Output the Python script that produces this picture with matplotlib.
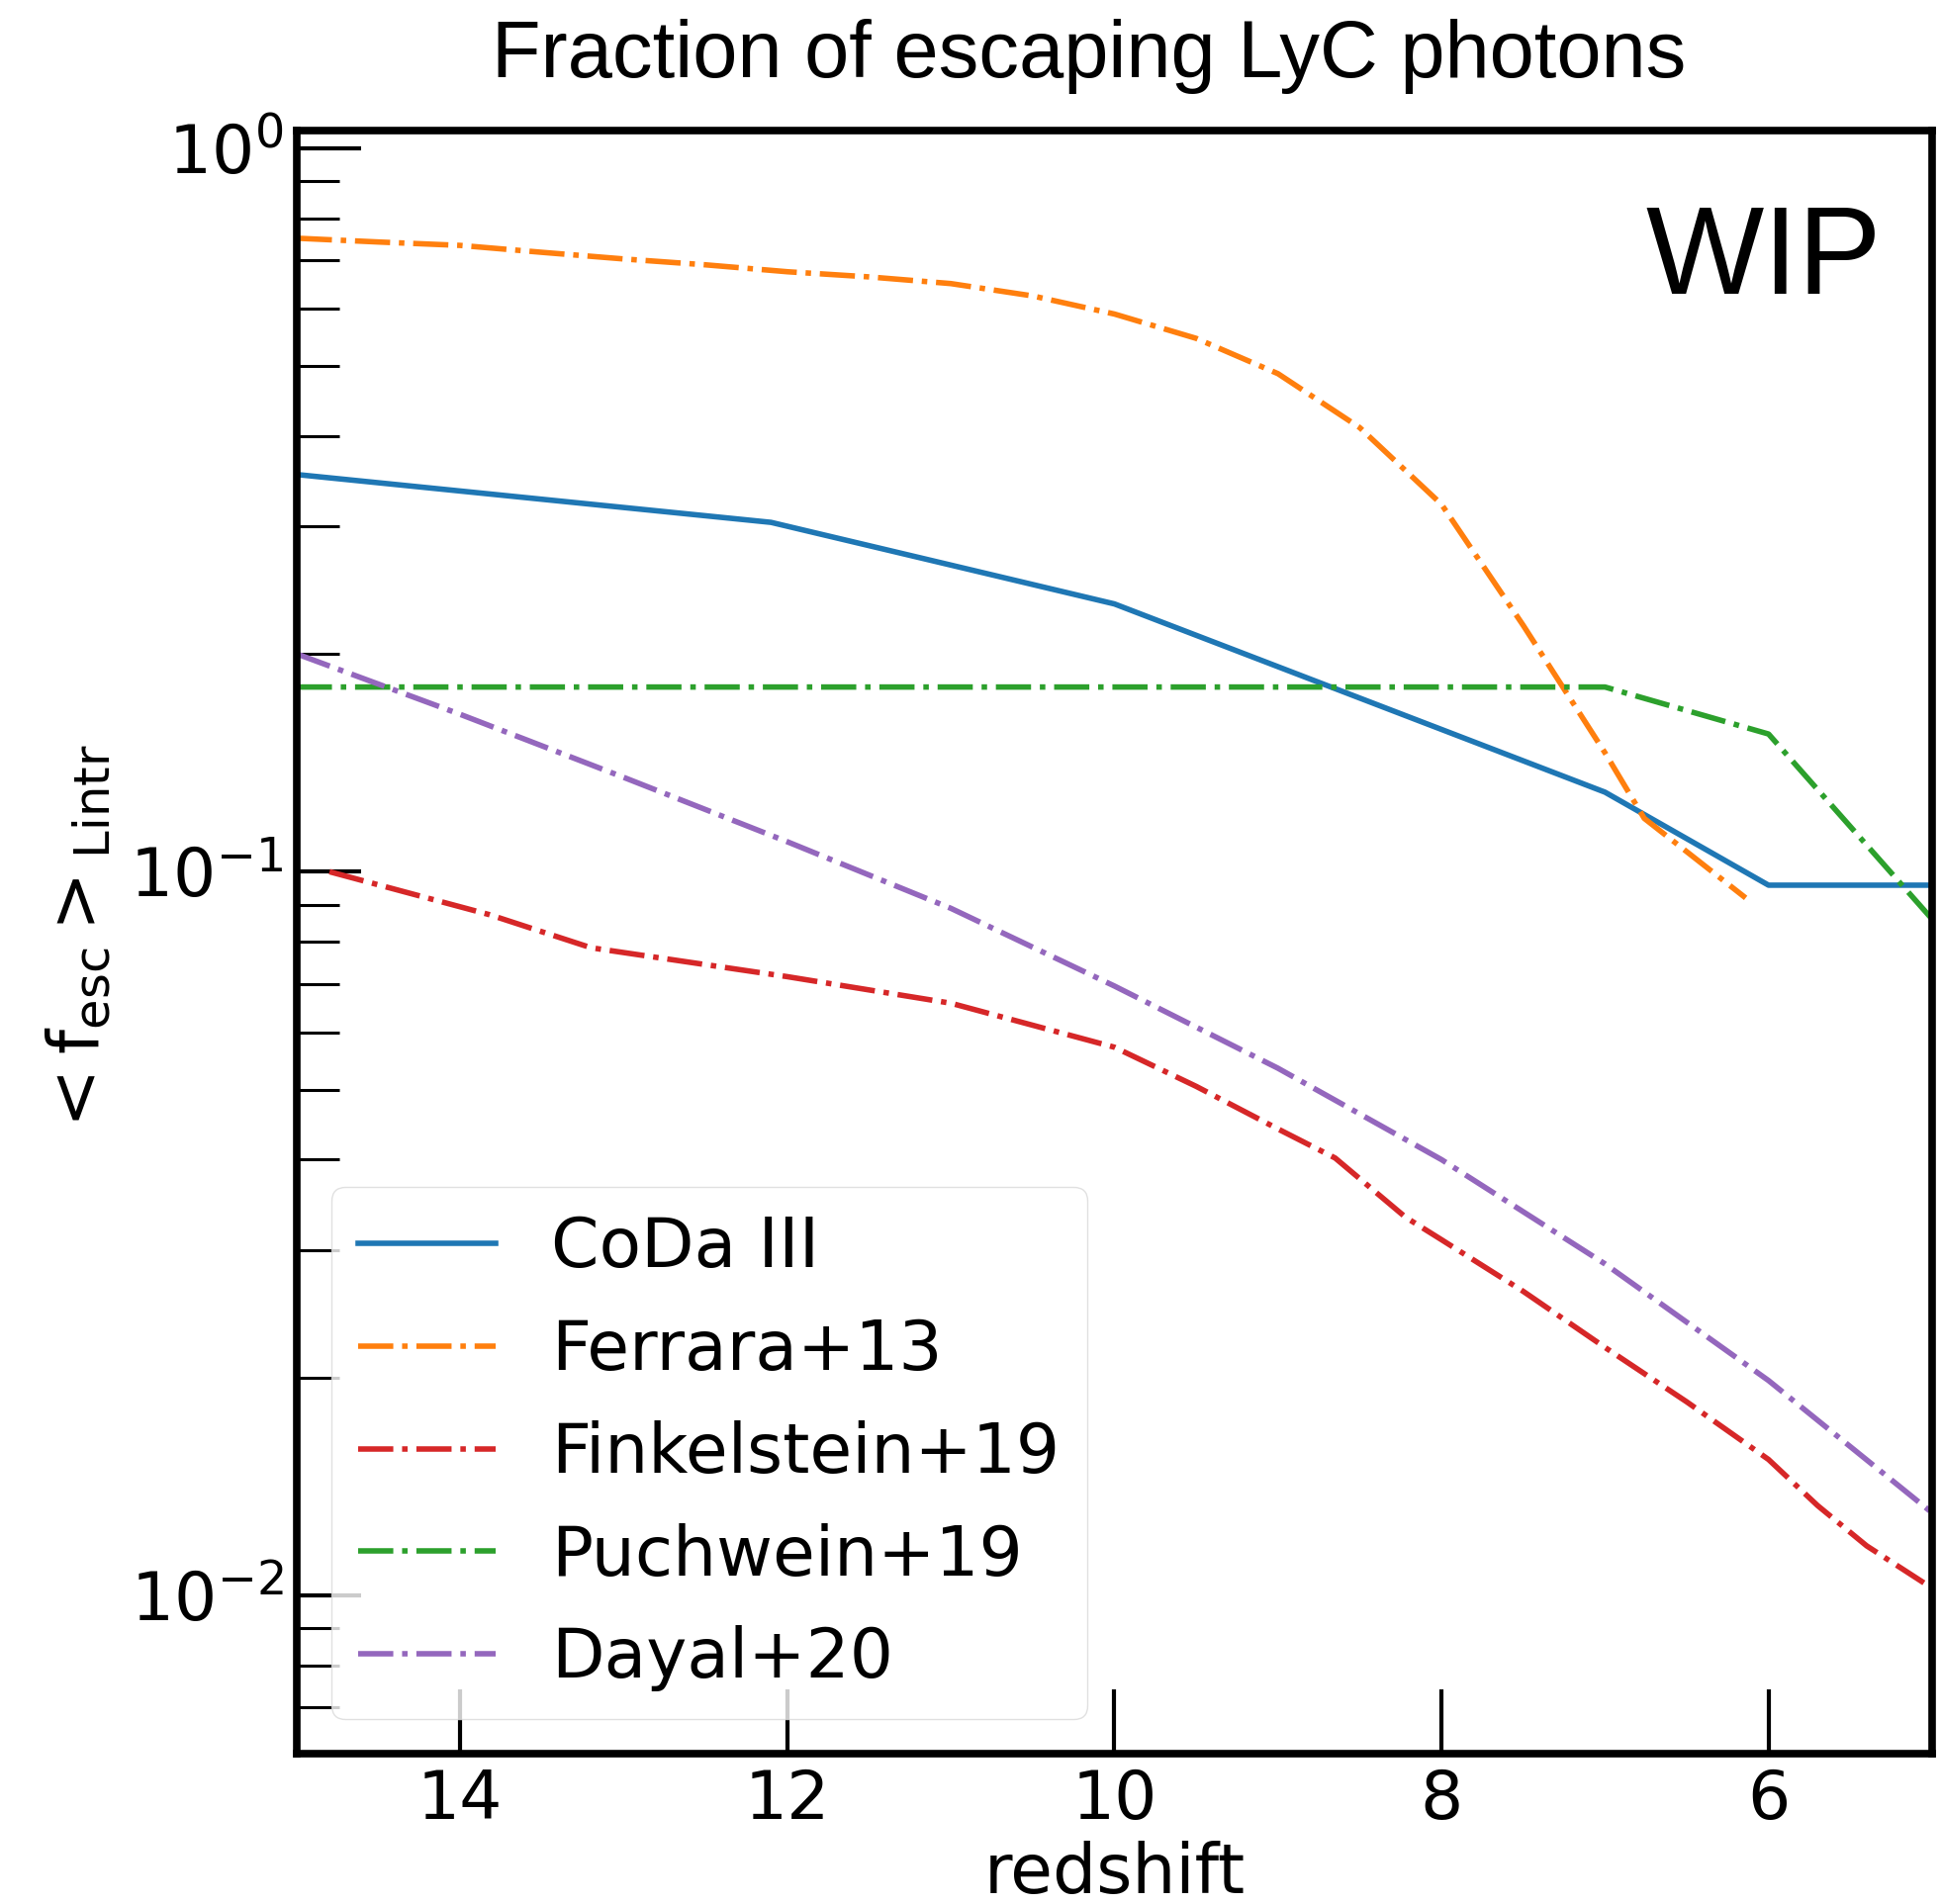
import matplotlib
matplotlib.use("Agg")
import matplotlib.pyplot as plt
from matplotlib.ticker import LogLocator, MultipleLocator, NullFormatter, NullLocator

plt.rcParams['mathtext.default'] = 'regular'

# Escape fraction of LyC photons versus redshift
z_coda = [15, 12.1, 10, 7, 6, 5]
f_coda = [0.354, 0.304, 0.2345, 0.1288, 0.0958, 0.0958]

z_ferrara = [15, 14.5, 14, 13.5, 13, 12.5, 12, 11.5, 11, 10.5, 10, 9.5, 9,
             8.5, 8, 7.5, 7, 6.76, 6.14]
f_ferrara = [0.751, 0.742, 0.734, 0.718, 0.703, 0.690, 0.675, 0.664, 0.650,
             0.625, 0.590, 0.546, 0.488, 0.411, 0.322, 0.219, 0.146, 0.1185, 0.092]

z_fink = [14.8, 13.82, 13.2, 12, 11, 10, 9.5, 9, 8.65, 8.22, 8, 7.5, 7, 6.5,
          6, 5.7, 5.4, 5.05]
f_fink = [0.100, 0.0872, 0.0785, 0.0716, 0.0658, 0.0572, 0.0505, 0.0441, 0.0402,
          0.0333, 0.031, 0.0263, 0.0220, 0.0185, 0.0154, 0.0133, 0.0117, 0.0104]

z_puch = [15, 7, 6, 5]
f_puch = [0.18, 0.18, 0.155, 0.086]

z_dayal = [15, 14, 13, 12, 11, 10, 9, 8, 7, 6, 5]
f_dayal = [0.200, 0.165, 0.135, 0.110, 0.089, 0.0695, 0.0535, 0.040, 0.0287,
           0.0198, 0.0130]

series = [
    (z_coda, f_coda, 'CoDa III', '#1f77b4', '-'),
    (z_ferrara, f_ferrara, 'Ferrara+13', '#ff7f0e', '-.'),
    (z_fink, f_fink, 'Finkelstein+19', '#d62728', '-.'),
    (z_puch, f_puch, 'Puchwein+19', '#2ca02c', '-.'),
    (z_dayal, f_dayal, 'Dayal+20', '#9467bd', '-.'),
]

fig = plt.figure(figsize=(19.62, 19.25), dpi=100)
ax = fig.add_axes([0.1529, 0.0790, 0.8425, 0.8526])

for z, f, lab, col, ls in series:
    ax.plot(z, f, ls, color=col, lw=4.0, label=lab)

ax.set_yscale('log')
ax.set_xlim(15, 5)
ax.set_ylim(0.00604, 1.059)

ax.xaxis.set_major_locator(MultipleLocator(2))
ax.xaxis.set_minor_locator(NullLocator())
ax.yaxis.set_major_locator(LogLocator(base=10))
ax.yaxis.set_minor_locator(LogLocator(base=10, subs=range(2, 10)))
ax.yaxis.set_minor_formatter(NullFormatter())

ax.tick_params(which='major', direction='in', length=47, width=3,
               labelsize=49, pad=10)
ax.tick_params(which='minor', direction='in', length=31, width=2.2)
for sp in ax.spines.values():
    sp.set_linewidth(5.5)

ax.set_xlabel('redshift', fontsize=50, labelpad=6)
ax.set_ylabel(r'$< f_{esc} >_{Lintr}$', fontsize=51, labelpad=12)

ax.legend(loc='lower left', fontsize=50, labelspacing=0.53,
          handlelength=2.0, edgecolor='0.85')

fig.text(0.5612, 0.9595, 'Fraction of escaping LyC photons',
         fontsize=58.5, family='Liberation Sans', ha='center', va='baseline')
fig.text(0.9088, 0.8457, 'WIP', fontsize=91, family='Liberation Sans',
         ha='center', va='baseline')

fig.savefig('out.png', dpi=100)
